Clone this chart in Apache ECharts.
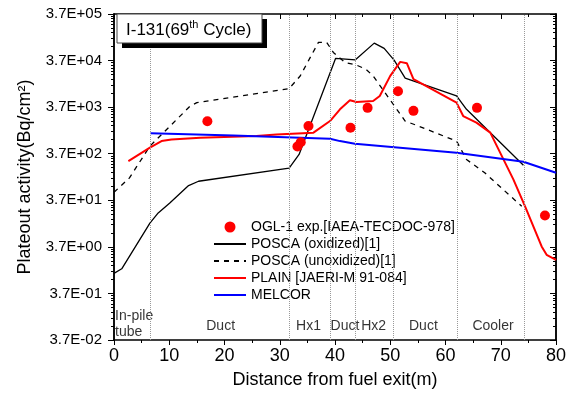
<!DOCTYPE html>
<html><head><meta charset="utf-8">
<script src="https://cdn.jsdelivr.net/npm/echarts@6/dist/echarts.min.js"></script>
<style>html,body{margin:0;padding:0;background:#fff}#c{width:574px;height:400px}</style>
</head><body><div id="c"></div>
<script>
// ---- data (Bq/cm2 vs distance in m) ----
const expX = [16.9, 33.2, 33.8, 35.2, 42.8, 45.9, 51.4, 54.2, 65.7, 78.0];
const expY = [1850, 530, 650, 1460, 1340, 3570, 8140, 3080, 3570, 17.4];

const poscaOxX = [0, 1.4, 6.5, 8.0, 10.1, 13.5, 15.3, 31.7, 33.5, 40.1, 43.7, 47.1, 48.9, 50.7, 52.7, 62.0, 63.8, 74.1];
const poscaOxY = [1.0, 1.25, 12.0, 19.8, 32.5, 76.7, 94.9, 181, 357, 41100, 38400, 87700, 67500, 37800, 15500, 6430, 3330, 210];

const poscaUnX = [0, 2.8, 6.5, 13.8, 15.0, 31.7, 33.7, 37.0, 38.5, 39.7, 41.8, 43.9, 45.6, 46.9, 52.7, 54.8, 62.0, 63.8, 67.1, 73.8];
const poscaUnY = [55, 112, 538, 3920, 4630, 9270, 17300, 90800, 90800, 55300, 33700, 29500, 24150, 17300, 1860, 1500, 690, 279, 144, 27.5];

const plainX = [2.6, 6.5, 8.6, 10.4, 15.6, 25.8, 29.4, 36.1, 39.1, 40.9, 42.7, 43.9, 46.9, 48.1, 50.0, 51.8, 53.0, 54.2, 62.0, 63.2, 65.6, 68.1, 72.3, 74.4, 77.4, 78.3, 80];
const plainY = [256, 498, 690, 751, 817, 885, 962, 1047, 1862, 3326, 5200, 4775, 5012, 6430, 17340, 34700, 32500, 14720, 4634, 2383, 1718, 1047, 103, 27.5, 3.78, 2.5, 1.95];

const melcorX = [6.6, 21.6, 39.1, 40.9, 43.6, 62.0, 74.1, 80];
const melcorY = [1012, 916, 778, 690, 607, 388, 248, 144];

const sectionNames = ['In-pile\ntube', 'Duct', 'Hx1', 'Duct', 'Hx2', 'Duct', 'Cooler'];
const sectionX = [0.2, 19.3, 35.2, 41.8, 47.0, 56.0, 68.6];
const sectionBounds = [6.6, 31.7, 39.2, 43.7, 50.6, 62.1, 74.3];

const yMajorTicks = [0.037, 0.37, 3.7, 37, 370, 3700, 37000, 370000];
const yMinorMult = [2, 3, 4, 5, 6, 7, 8, 9];
const xTickInterval = 10;

const seriesNames = ['OGL-1 exp.[IAEA-TECDOC-978]', 'POSCA (oxidized)[1]', 'POSCA (unoxidized)[1]', 'PLAIN [JAERI-M 91-084]', 'MELCOR'];

// ---- build ----
const pair = (xs, ys) => xs.map((x, i) => [x, ys[i]]);
const yMinorTicks = [];
yMajorTicks.slice(0, -1).forEach(b => yMinorMult.forEach(k => yMinorTicks.push(b * k)));
const fmtY = v => { const e = Math.round(Math.log10(v / 3.7)); return '3.7E' + (e < 0 ? '-' : '+') + String(Math.abs(e)).padStart(2, '0'); };

const FONT = 'Liberation Sans, Arial, sans-serif';
const black = '#000';
const axisLine = { show: true, lineStyle: { color: black, width: 1.5 } };

function yAxisBase(pos, ticks, len, inside, labels) {
  return {
    type: 'log', logBase: 10, min: 0.037, max: 370000, position: pos,
    axisLine: axisLine,
    axisTick: { show: true, inside: inside, length: len, customValues: ticks, lineStyle: { color: black, width: 1 } },
    axisLabel: labels ? { show: true, customValues: yMajorTicks, formatter: fmtY, fontSize: 15, color: black, fontFamily: FONT, margin: 12 } : { show: false },
    splitLine: { show: false }, minorTick: { show: false }
  };
}

const yAxes = [
  Object.assign(yAxisBase('left', yMajorTicks, 6, false, true), {
    name: 'Plateout activity(Bq/cm²)', nameLocation: 'middle', nameGap: 80,
    nameTextStyle: { fontSize: 18, color: black, fontFamily: FONT }
  }),
  yAxisBase('left', yMinorTicks, 3, false, false),
  yAxisBase('right', yMajorTicks, 6, true, false),
  yAxisBase('right', yMinorTicks, 3, true, false)
];

const xAxes = [
  {
    type: 'value', min: 0, max: 80, interval: xTickInterval, position: 'bottom',
    axisLine: axisLine,
    axisTick: { show: true, inside: false, length: 5, lineStyle: { color: black, width: 1 } },
    minorTick: { show: true, splitNumber: 2, length: 3, lineStyle: { color: black, width: 1 } },
    axisLabel: { fontSize: 18, color: black, fontFamily: FONT, margin: 7 },
    splitLine: { show: false },
    name: 'Distance from fuel exit(m)', nameLocation: 'middle', nameGap: 31,
    nameTextStyle: { fontSize: 18, color: black, fontFamily: FONT }
  },
  {
    type: 'value', min: 0, max: 80, interval: xTickInterval, position: 'top',
    axisLine: axisLine,
    axisTick: { show: true, inside: true, length: 5, lineStyle: { color: black, width: 1 } },
    minorTick: { show: true, splitNumber: 2, length: 3, lineStyle: { color: black, width: 1 } },
    axisLabel: { show: false }, splitLine: { show: false }
  }
];

const lineSeries = (name, xs, ys, color, width, type) => ({
  name, type: 'line', data: pair(xs, ys), symbol: 'none', showSymbol: false,
  lineStyle: { color, width, type: type || 'solid' }, itemStyle: { color }, z: 3, silent: true
});

const option = {
  animation: false,
  backgroundColor: '#fff',
  textStyle: { fontFamily: FONT },
  grid: { left: 114, right: 18, top: 14, bottom: 60 },
  xAxis: xAxes,
  yAxis: yAxes,
  legend: {
    orient: 'vertical', left: 208, top: 215, itemWidth: 32, itemHeight: 11, itemGap: 3,
    textStyle: { fontSize: 14, color: black, fontFamily: FONT },
    data: seriesNames.map((n, i) => i === 0 ? { name: n } : { name: n, itemStyle: { opacity: 0 } })
  },
  series: [
    {
      name: 'sections', type: 'scatter', symbolSize: 0, silent: true, z: 1,
      data: sectionNames.map((n, i) => ({
        name: n, value: [sectionX[i], i === 0 ? 0.08 : 0.072],
        label: i === 0 ? { align: 'left' } : {}
      })),
      label: { show: true, position: 'inside', formatter: '{b}', fontSize: 14, color: black, fontFamily: FONT, lineHeight: 16 },
      markLine: {
        silent: true, symbol: ['none', 'none'], label: { show: false },
        lineStyle: { type: 'dotted', color: '#999', width: 1 },
        data: sectionBounds.map(b => ({ xAxis: b }))
      }
    },
    lineSeries(seriesNames[1], poscaOxX, poscaOxY, '#000', 1.3),
    lineSeries(seriesNames[2], poscaUnX, poscaUnY, '#000', 1.3, [5, 5]),
    lineSeries(seriesNames[3], plainX, plainY, '#ff0000', 2),
    lineSeries(seriesNames[4], melcorX, melcorY, '#0000ff', 2),
    {
      name: seriesNames[0], type: 'scatter', data: pair(expX, expY), symbol: 'circle', symbolSize: 10,
      itemStyle: { color: '#ff0000', opacity: 1 }, z: 5, silent: true
    }
  ],
  graphic: [
    { type: 'rect', z: 100, shape: { x: 122, y: 19, width: 145, height: 29 }, style: { fill: '#000' } },
    { type: 'rect', z: 101, shape: { x: 117, y: 14, width: 145, height: 29 }, style: { fill: '#fff', stroke: '#444', lineWidth: 1 } },
    {
      type: 'text', z: 102, x: 126, y: 29,
      style: {
        text: '{a|I-131(69}{s|th}{a| Cycle)}', verticalAlign: 'middle', align: 'left',
        rich: {
          a: { fontSize: 17, fontFamily: FONT, fill: '#000', lineHeight: 20, verticalAlign: 'bottom' },
          s: { fontSize: 11, fontFamily: FONT, fill: '#000', lineHeight: 20, verticalAlign: 'top', padding: [0, 0, 8, 0] }
        }
      }
    }
  ]
};

const chart = echarts.init(document.getElementById('c'), null, { renderer: 'canvas' });
chart.setOption(option);
</script>
</body></html>
